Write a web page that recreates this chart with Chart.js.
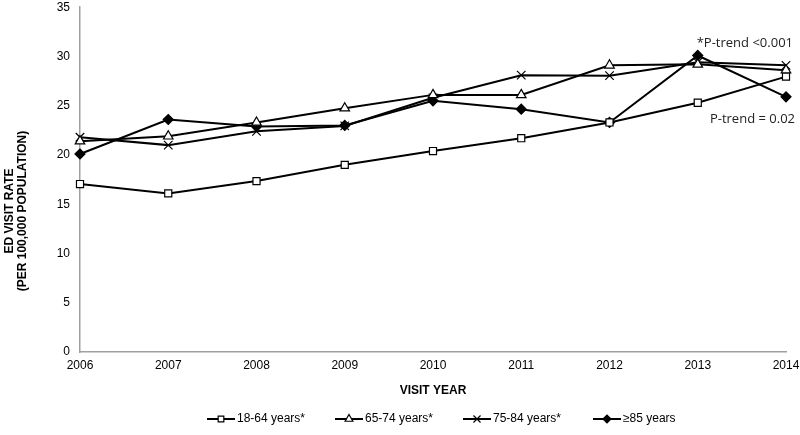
<!DOCTYPE html>
<html>
<head>
<meta charset="utf-8">
<script src="https://cdn.jsdelivr.net/npm/chart.js@4"></script>
<style>
  html, body { margin: 0; padding: 0; background: #fff; }
  #wrap { width: 800px; height: 435px; }
</style>
</head>
<body>
<div id="wrap"><canvas id="chart" width="800" height="435"></canvas></div>
<script>
// --- Data ---
const years = ["2006", "2007", "2008", "2009", "2010", "2011", "2012", "2013", "2014"];
const age18to64 = [17.05, 16.1, 17.35, 19.0, 20.4, 21.7, 23.3, 25.3, 27.95];
const age65to74 = [21.4, 21.9, 23.3, 24.75, 26.1, 26.1, 29.1, 29.2, 28.6];
const age75to84 = [21.8, 21.0, 22.4, 22.95, 25.8, 28.1, 28.05, 29.4, 29.1];
const age85plus = [20.1, 23.6, 22.9, 23.0, 25.5, 24.65, 23.3, 30.1, 25.9];
const seriesLabels = ["18-64 years*", "65-74 years*", "75-84 years*", "\u226585 years"];
const yTicks = [0, 5, 10, 15, 20, 25, 30, 35];

const tickFont = { family: "'Liberation Sans', Arial, sans-serif", size: 12 };

function makeSet(label, data, style, fill, radius) {
  return {
    label: label,
    data: data,
    borderColor: "#000",
    borderWidth: 2,
    pointStyle: style,
    pointRadius: radius,
    pointBorderWidth: 1.2,
    pointBorderColor: "#000",
    pointBackgroundColor: fill,
    tension: 0,
    fill: false,
  };
}

// draws y title, trend notes and the legend row
const extras = {
  id: "extras",
  afterDraw(chart) {
    const ctx = chart.ctx;
    const y = chart.scales.y;
    ctx.save();

    // y axis title, two rotated lines
    ctx.fillStyle = "#000";
    ctx.font = "bold 12px 'Liberation Sans', Arial, sans-serif";
    ctx.textAlign = "center";
    ctx.textBaseline = "middle";
    ctx.translate(10, 211);
    ctx.rotate(-Math.PI / 2);
    ctx.fillText("ED VISIT RATE", 0, 0);
    ctx.fillText("(PER 100,000 POPULATION)", 0, 13);
    ctx.restore();

    // trend notes
    ctx.save();
    ctx.fillStyle = "#222";
    ctx.font = "13px 'Open Sans', sans-serif";
    ctx.textAlign = "right";
    ctx.textBaseline = "middle";
    ctx.fillText("*P-trend <0.001", 793, y.getPixelForValue(31.3));
    ctx.fillText("P-trend = 0.02", 795, y.getPixelForValue(23.6));
    ctx.restore();

    // legend
    ctx.save();
    const starts = [207, 335, 463, 593];
    const ly = 419;
    chart.data.datasets.forEach((ds, i) => {
      const sx = starts[i];
      ctx.strokeStyle = "#000";
      ctx.lineWidth = 2;
      ctx.beginPath();
      ctx.moveTo(sx, ly);
      ctx.lineTo(sx + 28, ly);
      ctx.stroke();
      ctx.fillStyle = ds.pointBackgroundColor;
      ctx.lineWidth = 1.2;
      Chart.helpers.drawPoint(ctx, {
        pointStyle: ds.pointStyle,
        radius: ds.pointRadius - 1,
        borderWidth: 1.2,
        rotation: 0,
      }, sx + 14, ly);
      ctx.fillStyle = "#000";
      ctx.font = "12px 'Liberation Sans', Arial, sans-serif";
      ctx.textAlign = "left";
      ctx.textBaseline = "middle";
      ctx.fillText(ds.label, sx + 30, ly);
    });
    ctx.restore();
  },
};

const ctx = document.getElementById("chart").getContext("2d");
const chart = new Chart(ctx, {
  type: "line",
  data: {
    labels: years,
    datasets: [
      makeSet(seriesLabels[0], age18to64, "rect", "#fff", 5),
      makeSet(seriesLabels[1], age65to74, "triangle", "#fff", 5.5),
      makeSet(seriesLabels[2], age75to84, "crossRot", "#fff", 6),
      makeSet(seriesLabels[3], age85plus, "rectRot", "#000", 5),
    ],
  },
  options: {
    responsive: false,
    animation: false,
    layout: { padding: { top: 5, right: 14, bottom: 33, left: 0 } },
    plugins: {
      legend: { display: false },
      tooltip: { enabled: false },
    },
    scales: {
      x: {
        offset: false,
        grid: { display: false, drawTicks: false },
        border: { display: true, color: "#a0a0a0", width: 1.5 },
        ticks: { color: "#000", font: tickFont, padding: 6, maxRotation: 0, autoSkip: false },
        title: {
          display: true,
          text: "VISIT YEAR",
          color: "#000",
          font: { family: "'Liberation Sans', Arial, sans-serif", size: 12, weight: "bold" },
          padding: { top: 0, bottom: 4 },
        },
        afterFit(scale) {
          scale.height = 50;
          scale.paddingLeft = 0;
          scale.paddingRight = 0;
        },
      },
      y: {
        min: yTicks[0],
        max: yTicks[yTicks.length - 1],
        grid: { display: false, drawTicks: false },
        border: { display: true, color: "#a0a0a0", width: 1.5 },
        ticks: {
          stepSize: 5,
          color: "#000",
          font: tickFont,
          padding: 10,
        },
        afterBuildTicks(scale) { scale.ticks = yTicks.map(v => ({ value: v })); },
        afterFit(scale) {
          scale.width = 80;
          scale.paddingTop = 0;
          scale.paddingBottom = 0;
        },
      },
    },
  },
  plugins: [extras],
});
</script>
</body>
</html>
